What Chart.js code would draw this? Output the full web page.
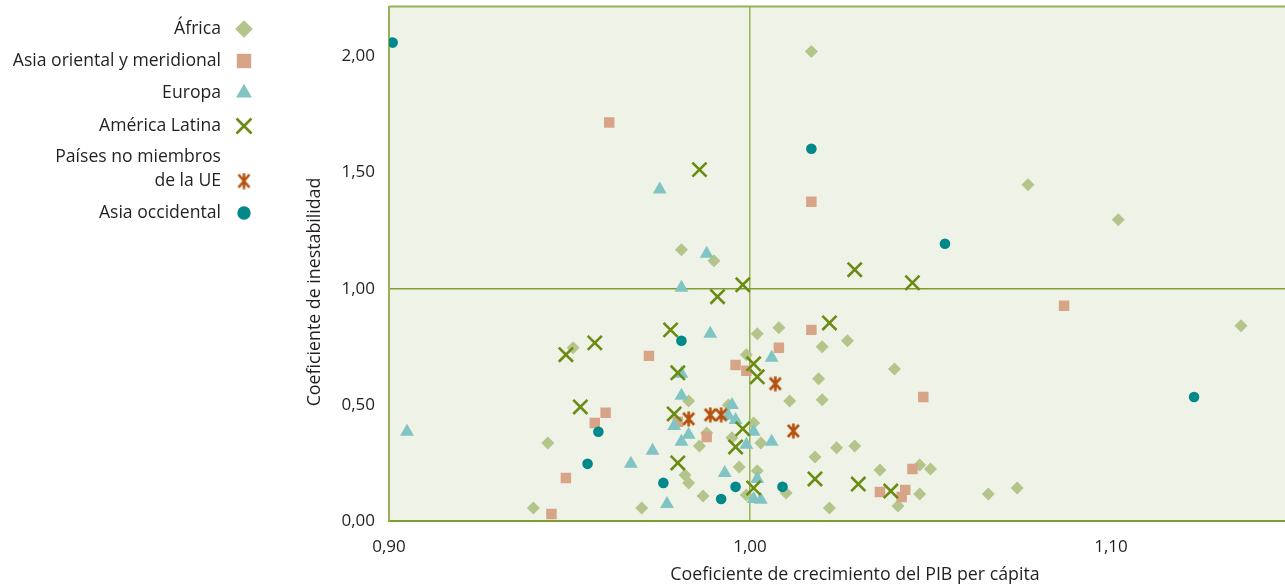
<!DOCTYPE html>
<html lang="es">
<head>
    <meta charset="UTF-8">
    <title>Coeficiente de crecimiento e inestabilidad</title>
    <script src="https://cdn.jsdelivr.net/npm/chart.js"></script>
    <style>
        html, body {
            margin: 0;
            padding: 0;
            background: #fff;
            overflow: hidden;
        }
        #chart {
            display: block;
            margin-top: -6px;
        }
    </style>
</head>
<body>
    <canvas id="chart" width="1333" height="592"></canvas>

    <script>
        // regiones (orden de la leyenda)
        const REGIONS = [
            'África',
            'Asia oriental y meridional',
            'Europa',
            'América Latina',
            'Países no miembros de la UE',
            'Asia occidental'
        ]
        const LEGEND_LINES = [
            ['África'],
            ['Asia oriental y meridional'],
            ['Europa'],
            ['América Latina'],
            ['Países no miembros', 'de la UE'],
            ['Asia occidental']
        ]
        const COLORS = ['#b3c58a', '#d7a488', '#80c4c4', '#6a8c12', '#b5520f', '#00898a']

        // x = coeficiente de crecimiento del PIB per cápita, y = coeficiente de inestabilidad
        const africaX = [1.017, 1.077, 1.102, 1.136, 0.981, 0.990, 1.002, 1.008, 1.020, 1.027, 1.040,
            1.019, 1.020, 1.011, 0.999, 0.951, 0.983, 0.994, 0.995, 0.986, 0.988, 1.001, 1.003,
            1.018, 1.024, 1.029, 1.036, 1.047, 1.050, 1.047, 1.041, 1.022, 1.066, 1.074, 1.010,
            0.999, 1.002, 0.997, 0.982, 0.983, 0.987, 0.970, 0.940, 0.944]
        const africaY = [2.022, 1.448, 1.297, 0.841, 1.168, 1.121, 0.806, 0.832, 0.750, 0.776, 0.655,
            0.612, 0.522, 0.517, 0.716, 0.746, 0.517, 0.500, 0.358, 0.323, 0.379, 0.422, 0.336,
            0.276, 0.315, 0.323, 0.220, 0.241, 0.224, 0.116, 0.065, 0.056, 0.116, 0.142, 0.121,
            0.112, 0.216, 0.233, 0.198, 0.164, 0.108, 0.056, 0.056, 0.336]

        const asiaOrX = [0.961, 1.017, 1.087, 1.017, 1.008, 0.972, 0.996, 0.999, 0.960, 0.957,
            0.980, 0.988, 0.949, 0.945, 1.048, 1.045, 1.036, 1.043, 1.042]
        const asiaOrY = [1.716, 1.375, 0.927, 0.823, 0.746, 0.711, 0.672, 0.647, 0.466, 0.422,
            0.427, 0.362, 0.185, 0.030, 0.534, 0.224, 0.125, 0.134, 0.103]

        const europaX = [0.905, 0.975, 0.988, 0.981, 0.989, 1.006, 0.981, 0.981, 0.995, 0.996,
            0.994, 0.979, 0.983, 0.981, 1.001, 0.999, 1.006, 0.973, 0.967, 0.993, 1.002, 1.001,
            1.003, 0.977]
        const europaY = [0.384, 1.427, 1.151, 1.004, 0.806, 0.703, 0.634, 0.539, 0.500, 0.435,
            0.453, 0.409, 0.371, 0.341, 0.384, 0.328, 0.341, 0.302, 0.246, 0.207, 0.181, 0.095,
            0.091, 0.073]

        const latamX = [0.986, 0.998, 0.991, 1.029, 1.045, 1.022, 0.978, 0.957, 0.949, 0.980,
            1.001, 1.002, 0.953, 0.979, 0.998, 0.996, 0.980, 1.001, 1.018, 1.030, 1.039]
        const latamY = [1.513, 1.017, 0.966, 1.082, 1.026, 0.853, 0.823, 0.767, 0.716, 0.638,
            0.677, 0.621, 0.491, 0.461, 0.397, 0.319, 0.250, 0.142, 0.181, 0.159, 0.129]

        const noUeX = [0.983, 0.989, 0.992, 1.007, 1.012]
        const noUeY = [0.440, 0.457, 0.457, 0.591, 0.388]

        const asiaOcX = [0.901, 1.017, 1.054, 1.123, 0.981, 0.958, 0.955, 0.976, 0.996, 0.992, 1.009]
        const asiaOcY = [2.060, 1.603, 1.194, 0.534, 0.776, 0.384, 0.246, 0.164, 0.147, 0.095, 0.147]

        const X_TICKS = [0.90, 1.00, 1.10]
        const Y_TICKS = [0, 0.5, 1, 1.5, 2]

        function toPoints(xs, ys) {
            return xs.map((x, i) => ({x: x, y: ys[i]}))
        }

        // marcador de asterisco (X con trazo vertical)
        function makeAsterisk(color, w, h) {
            const c = document.createElement('canvas')
            c.width = w
            c.height = h
            const g = c.getContext('2d')
            g.strokeStyle = color
            g.lineWidth = 2.6
            g.beginPath()
            g.moveTo(2, 2); g.lineTo(w - 2, h - 2)
            g.moveTo(w - 2, 2); g.lineTo(2, h - 2)
            g.moveTo(w / 2, 0.5); g.lineTo(w / 2, h - 0.5)
            g.stroke()
            return c
        }

        const TEXT = '#231f20'
        const FONT = '"Open Sans", "Noto Sans", sans-serif'
        // el lienzo sube 6px con CSS; lo dibujado a mano se baja lo mismo
        const SHIFT = 6

        const datasets = [
            {label: REGIONS[0], data: toPoints(africaX, africaY), pointStyle: 'rectRot', pointRadius: 6.5,
                backgroundColor: COLORS[0], borderWidth: 0, order: 6},
            {label: REGIONS[1], data: toPoints(asiaOrX, asiaOrY), pointStyle: 'rect', pointRadius: 7.4,
                backgroundColor: COLORS[1], borderWidth: 0, order: 5},
            {label: REGIONS[2], data: toPoints(europaX, europaY), pointStyle: 'triangle', pointRadius: 8,
                backgroundColor: COLORS[2], borderWidth: 0, order: 4},
            {label: REGIONS[3], data: toPoints(latamX, latamY), pointStyle: 'crossRot', pointRadius: 10,
                borderColor: COLORS[3], backgroundColor: COLORS[3], borderWidth: 2.6, order: 3},
            {label: REGIONS[4], data: toPoints(noUeX, noUeY), pointStyle: makeAsterisk(COLORS[4], 15, 16),
                pointRadius: 8, borderColor: COLORS[4], backgroundColor: COLORS[4], order: 2},
            {label: REGIONS[5], data: toPoints(asiaOcX, asiaOcY), pointStyle: 'circle', pointRadius: 5.3,
                backgroundColor: COLORS[5], borderWidth: 0, order: 1}
        ]

        // marcadores de la leyenda, algo más grandes que en el gráfico
        const LEGEND_RADIUS = [8.8, 10.2, 9.2, 10.6, 8, 6.7]
        const LEGEND_ASTERISK = makeAsterisk(COLORS[4], 15, 17)

        // fondo del área, borde superior, títulos de ejes y leyenda
        const decorPlugin = {
            id: 'decor',
            beforeDraw(chart) {
                const a = chart.chartArea
                const ctx = chart.ctx
                ctx.save()
                ctx.fillStyle = '#eff2e7'
                ctx.fillRect(a.left, a.top, a.right - a.left, a.bottom - a.top)
                ctx.restore()
            },
            afterDraw(chart) {
                const a = chart.chartArea
                const ctx = chart.ctx
                ctx.save()
                ctx.strokeStyle = '#95b254'
                ctx.lineWidth = 2
                ctx.beginPath()
                ctx.moveTo(a.left, a.top)
                ctx.lineTo(a.right, a.top)
                ctx.stroke()

                ctx.fillStyle = TEXT
                ctx.font = '17.8px ' + FONT
                ctx.textAlign = 'center'
                ctx.textBaseline = 'middle'
                ctx.fillText('Coeficiente de crecimiento del PIB per cápita', 855, 575 + SHIFT)
                ctx.translate(315, 292 + SHIFT)
                ctx.rotate(-Math.PI / 2)
                ctx.fillText('Coeficiente de inestabilidad', 0, 0)
                ctx.restore()

                // leyenda
                const legendY = [29, 61, 93, 126, 157, 213]
                ctx.save()
                ctx.font = '17.6px ' + FONT
                ctx.textAlign = 'right'
                ctx.textBaseline = 'middle'
                chart.data.datasets.forEach((ds, i) => {
                    const lines = LEGEND_LINES[i]
                    const y = legendY[i] + SHIFT
                    lines.forEach((t, k) => {
                        ctx.fillStyle = TEXT
                        ctx.fillText(t, 221, y + k * 24)
                    })
                    const my = y + (lines.length - 1) * 24
                    ctx.fillStyle = ds.backgroundColor
                    ctx.strokeStyle = ds.borderColor || ds.backgroundColor
                    ctx.lineWidth = ds.borderWidth || 0
                    Chart.helpers.drawPoint(ctx, {
                        pointStyle: i === 4 ? LEGEND_ASTERISK : ds.pointStyle,
                        radius: LEGEND_RADIUS[i],
                        rotation: 0,
                        borderWidth: ds.borderWidth || 0
                    }, 244, my)
                })
                ctx.restore()
            }
        }

        const fmt = v => Number(v).toFixed(2).replace('.', ',')

        new Chart(document.getElementById('chart'), {
            type: 'scatter',
            data: {datasets: datasets},
            plugins: [decorPlugin],
            options: {
                responsive: false,
                animation: false,
                events: [],
                layout: {padding: {left: 290, top: 0, right: 1, bottom: 0}},
                plugins: {
                    legend: {display: false},
                    tooltip: {enabled: false}
                },
                scales: {
                    x: {
                        type: 'linear',
                        min: 0.9,
                        max: 1.158,
                        afterFit: s => {
                            s.height = 65
                            s.paddingLeft = 0
                            s.paddingRight = 0
                        },
                        afterBuildTicks: s => { s.ticks = X_TICKS.map(v => ({value: v})) },
                        ticks: {
                            includeBounds: false,
                            padding: 16,
                            color: TEXT,
                            font: {family: FONT, size: 17},
                            callback: v => fmt(v)
                        },
                        grid: {
                            drawTicks: false,
                            lineWidth: 1.5,
                            color: c => Math.abs(c.tick.value - 1) < 1e-6 ? '#95b254' : 'rgba(0,0,0,0)'
                        },
                        border: {color: '#7f9d30', width: 2}
                    },
                    y: {
                        type: 'linear',
                        min: 0,
                        max: 2.215,
                        afterFit: s => {
                            s.width = 99
                            s.paddingTop = 0
                            s.paddingBottom = 0
                        },
                        afterBuildTicks: s => { s.ticks = Y_TICKS.map(v => ({value: v})) },
                        ticks: {
                            includeBounds: false,
                            padding: 14,
                            color: TEXT,
                            font: {family: FONT, size: 17},
                            callback: v => fmt(v)
                        },
                        grid: {
                            drawTicks: false,
                            lineWidth: 1.5,
                            color: c => Math.abs(c.tick.value - 1) < 1e-6 ? '#7f9d30' : 'rgba(0,0,0,0)'
                        },
                        border: {color: '#95b254', width: 2}
                    }
                }
            }
        })
    </script>
</body>
</html>
